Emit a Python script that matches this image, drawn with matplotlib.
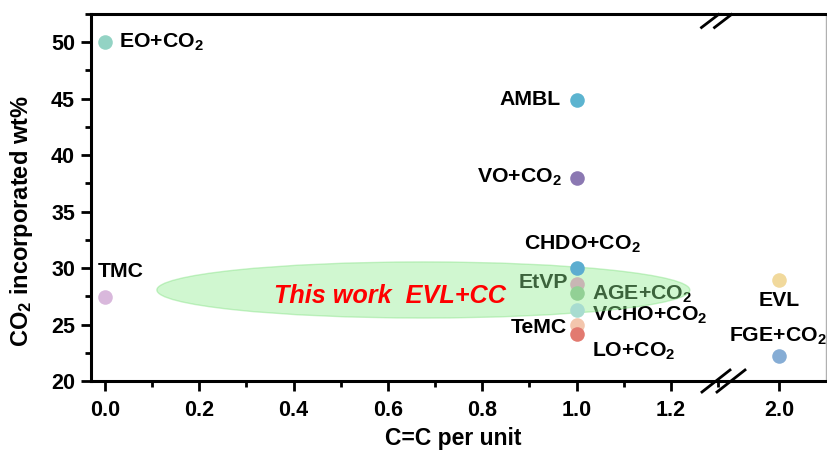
import matplotlib
matplotlib.use("Agg")
import matplotlib.pyplot as plt
from matplotlib.patches import Ellipse
from matplotlib.lines import Line2D
from matplotlib.ticker import MultipleLocator

plt.rcParams["font.family"] = ["Liberation Sans", "DejaVu Sans"]
plt.rcParams["font.weight"] = "bold"
plt.rcParams["mathtext.fontset"] = "custom"
plt.rcParams["mathtext.rm"] = "Liberation Sans:bold"
plt.rcParams["mathtext.it"] = "Liberation Sans:bold:italic"
plt.rcParams["mathtext.bf"] = "Liberation Sans:bold"

# data
NAMES = ["EO+CO$_2$", "TMC", "AMBL", "VO+CO$_2$", "CHDO+CO$_2$", "EtVP",
         "AGE+CO$_2$", "VCHO+CO$_2$", "TeMC", "LO+CO$_2$", "EVL", "FGE+CO$_2$"]
CC = [0, 0, 1, 1, 1, 1, 1, 1, 1, 1, 2, 2]
WT = [50.0, 27.4, 44.9, 38.0, 30.0, 28.6, 27.8, 26.3, 25.0, 24.2, 28.9, 22.2]
COLORS = ["#93d3c4", "#d9b8dc", "#5cb4d0", "#8b78b2", "#5cadd0", "#c8b6b4",
          "#92d095", "#a8dcd0", "#f3c6ad", "#e27a70", "#f1d99c", "#86add5"]

# label placement: (dx px, dy px, ha)
LABEL_POS = {
    "EO+CO$_2$": (14, 0, "left"),
    "TMC": (-7, 26, "left"),
    "AMBL": (-16, 0, "right"),
    "VO+CO$_2$": (-15, 0, "right"),
    "CHDO+CO$_2$": (6, 24, "center"),
    "EtVP": (-9, 1, "right"),
    "AGE+CO$_2$": (15, -1, "left"),
    "VCHO+CO$_2$": (15, -5, "left"),
    "TeMC": (-10, -3, "right"),
    "LO+CO$_2$": (15, -18, "left"),
    "EVL": (0, -20, "center"),
    "FGE+CO$_2$": (-1, 20, "center"),
}

W, H = 827, 451
fig = plt.figure(figsize=(W / 100, H / 100), dpi=100)
L, R, BRK = 91 / W, 826 / W, 720 / W
B, T = 1 - 381 / H, 1 - 14 / H
ax1 = fig.add_axes([L, B, BRK - L, T - B])
ax2 = fig.add_axes([BRK, B, R - BRK, T - B], sharey=ax1)

ax1.set_xlim(-0.0297, 1.304)
ax2.set_xlim(1.875, 2.10)
ax1.set_ylim(20, 52.5)

for ax in (ax1, ax2):
    for s in ("top", "bottom", "left"):
        ax.spines[s].set_linewidth(2.2)
    ax.tick_params(which="major", direction="out", length=7.5, width=2,
                   labelsize=15.5, pad=4)
    ax.tick_params(which="minor", direction="out", length=4, width=2)
    ax.tick_params(axis="x", which="major", pad=6)
ax1.spines["right"].set_visible(False)
ax2.spines["left"].set_visible(False)
ax2.spines["right"].set_color("#b0b0b0")
ax2.spines["right"].set_linewidth(1)
ax2.tick_params(axis="y", which="both", left=False, labelleft=False)

ax1.xaxis.set_major_locator(MultipleLocator(0.2))
ax1.xaxis.set_minor_locator(MultipleLocator(0.1))
ax1.yaxis.set_major_locator(MultipleLocator(5))
ax1.yaxis.set_minor_locator(MultipleLocator(2.5))
ax1.xaxis.set_major_formatter(matplotlib.ticker.FormatStrFormatter("%.1f"))
ax2.set_xticks([2.0])
ax2.set_xticklabels(["2.0"])
ax2.xaxis.set_minor_locator(matplotlib.ticker.NullLocator())

for name, x, y, c in zip(NAMES, CC, WT, COLORS):
    ax = ax2 if x > 1.5 else ax1
    ax.scatter([x], [y], s=110, color=c, zorder=4, clip_on=False, linewidths=0)
    dx, dy, ha = LABEL_POS[name]
    ax.annotate(name, xy=(x, y), xytext=(dx, dy), textcoords="offset pixels",
                ha=ha, va="center", fontsize=15.3, fontweight="bold",
                color="black", zorder=2, annotation_clip=False)

ell = Ellipse((0.675, 28.06), 1.13, 4.97, facecolor="#90ee90", alpha=0.42,
              edgecolor="#7fe07f", linewidth=1, zorder=3)
ax1.add_patch(ell)
ax1.text(0.604, 26.9, "This work  EVL+CC", color="red", fontsize=18.2,
         fontweight="bold", fontstyle="italic", ha="center", va="baseline",
         zorder=5)

fig.text(453 / W, 1 - 438 / H, "C=C per unit", ha="center", va="center",
         fontsize=16.5, fontweight="bold")
fig.text(22 / W, 1 - 221 / H, "CO$_2$ incorporated wt%", ha="center",
         va="center", rotation=90, fontsize=17, fontweight="bold")

# axis break marks
def slash(cx, cy, w, h):
    fig.add_artist(Line2D([(cx - w / 2) / W, (cx + w / 2) / W],
                          [1 - (cy + h / 2) / H, 1 - (cy - h / 2) / H],
                          transform=fig.transFigure, color="black", lw=2))

for cx in (710, 723):
    slash(cx, 21, 17, 13)
for cx in (716, 731):
    slash(cx, 381, 28, 22)

fig.savefig("out.png", dpi=100)
